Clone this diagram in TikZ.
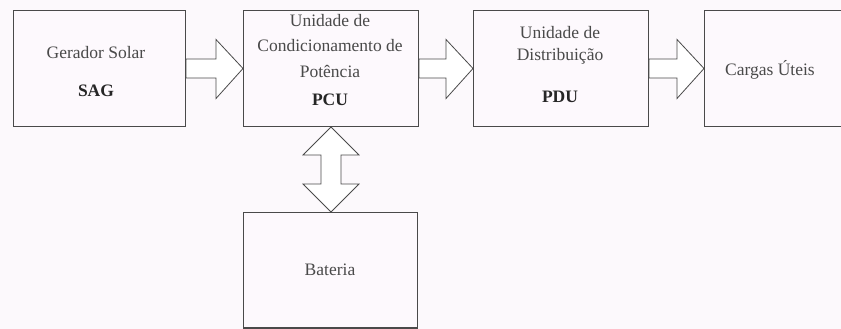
\documentclass[tikz,border=0pt]{standalone}
\usepackage{fontspec}
\setmainfont{Liberation Serif}
\usetikzlibrary{calc}
\definecolor{bgc}{HTML}{FCF9FC}
\definecolor{boxc}{HTML}{FDF9FD}
\definecolor{linec}{HTML}{4A4A4A}
\definecolor{txtc}{HTML}{4A4A4A}
\tikzset{
  blk/.style={draw=linec, line width=1pt, fill=boxc, inner sep=0pt, anchor=north west},
  lbl/.style={text=txtc, font=\fontsize{17.5}{20}\selectfont, inner sep=0pt},
  blbl/.style={lbl, text=black!85, font=\fontsize{17.5}{20}\selectfont\bfseries},
  barrow/.style={draw=linec, line width=0.8pt, fill=white, line join=miter},
}
\begin{document}
\begin{tikzpicture}[x=1pt,y=-1pt]
\useasboundingbox[fill=bgc] (0,0) rectangle (841,329);
% boxes
\node[blk, minimum width=172pt, minimum height=116pt] (sag) at (13,10) {};
\node[blk, minimum width=175pt, minimum height=116pt] (pcu) at (243,10) {};
\node[blk, minimum width=175pt, minimum height=116pt] (pdu) at (473,10) {};
\node[blk, minimum width=150pt, minimum height=116pt] (carg) at (704,10) {};
\node[blk, minimum width=174pt, minimum height=115pt] (bat) at (243,212) {};
\draw[linec, line width=2pt] (bat.south west) -- (bat.south east);
% labels
\node[lbl] (t1) at (96,53) {Gerador Solar};
\node[blbl] (t2) at (96,91) {SAG};
\node[lbl] (t3) at (330,21) {Unidade de};
\node[lbl] (t4) at (330,46) {Condicionamento de};
\node[lbl] (t5) at (330,71) {Potência};
\node[blbl] (t6) at (330,100) {PCU};
\node[lbl] (t7) at (560,33) {Unidade de};
\node[lbl] (t8) at (560,56) {Distribuição};
\node[blbl] (t9) at (560,97) {PDU};
\node[lbl] (t10) at (770,70) {Cargas Úteis};
\node[lbl] (t11) at (330,270) {Bateria};
% horizontal block arrows
\foreach \a/\b in {sag/pcu, pcu/pdu, pdu/carg}{
  \draw[barrow] let \p1=(\a.east), \p2=(\b.west), \n1={\x2-27} in
    (\x1,\y1-9.5) -- (\n1,\y1-9.5) -- (\n1,\y1-30) -- (\x2,\y1) --
    (\n1,\y1+29) -- (\n1,\y1+9.5) -- (\x1,\y1+9.5) -- cycle;
}
% vertical double block arrow
\draw[barrow] let \p1=(pcu.south), \p2=(bat.north) in
  (\x1,\y1) -- (\x1+28,\y1-28) -- (\x1+10,\y1-28) -- (\x1+10,\y2+28) --
  (\x1+28,\y2+28) -- (\x1,\y2) -- (\x1-28,\y2+28) -- (\x1-10,\y2+28) --
  (\x1-10,\y1-28) -- (\x1-28,\y1-28) -- cycle;
\end{tikzpicture}
\end{document}
